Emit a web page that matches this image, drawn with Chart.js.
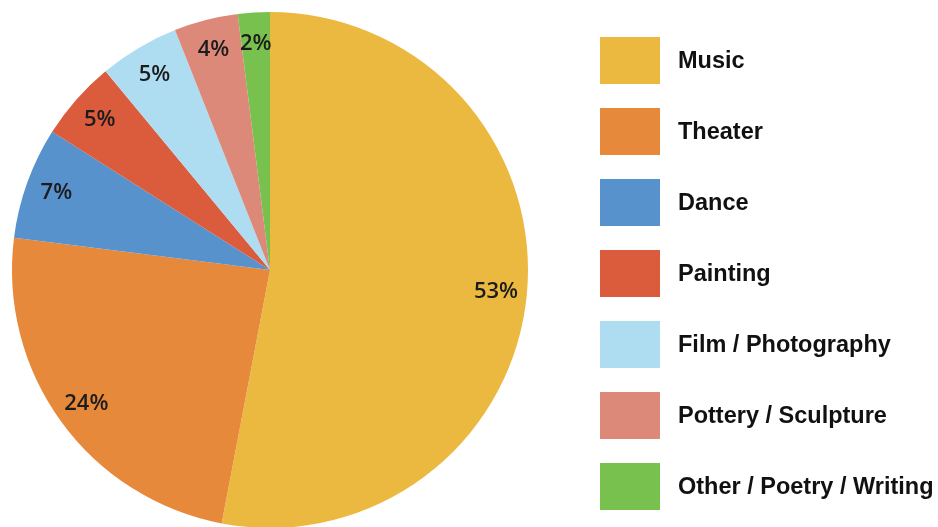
<!DOCTYPE html>
<html>
<head>
<meta charset="utf-8">
<script src="https://cdn.jsdelivr.net/npm/chart.js@4.4.0/dist/chart.umd.min.js"></script>
<style>
  html, body { margin: 0; padding: 0; background: #fff; overflow: hidden; }
  .wrap { position: relative; width: 938px; height: 527px; overflow: hidden; }
  .chart-box { position: absolute; left: 0; top: 0; width: 938px; height: 540px; }
  .legend { position: absolute; left: 600px; top: 37px; margin: 0; padding: 0; list-style: none; }
  .legend li { display: flex; align-items: center; height: 47px; margin-bottom: 24px; }
  .legend .swatch { width: 60px; height: 47px; margin-right: 18px; }
  .legend .text { font-family: "Liberation Sans", Arial, sans-serif; font-weight: bold; font-size: 23.5px; color: #111; }
</style>
</head>
<body>
<div class="wrap">
  <div class="chart-box"><canvas id="artsChart" width="938" height="540"></canvas></div>
  <ul class="legend" id="legend"></ul>
</div>
<script>
const categories = ['Music', 'Theater', 'Dance', 'Painting', 'Film / Photography', 'Pottery / Sculpture', 'Other / Poetry / Writing'];
const shares = [53, 24, 7, 5, 5, 4, 2];
const colors = ['#ECB940', '#E7893A', '#5792CD', '#DB5B3D', '#AEDCF1', '#DD897A', '#79C14E'];

// percentage labels inside the slices
const sliceLabels = {
  id: 'sliceLabels',
  afterDatasetsDraw(chart) {
    const ctx = chart.ctx;
    const meta = chart.getDatasetMeta(0);
    ctx.save();
    ctx.font = '600 22px "Open Sans", sans-serif';
    ctx.fillStyle = '#1c1c1c';
    ctx.textAlign = 'center';
    ctx.textBaseline = 'middle';
    meta.data.forEach((arc, i) => {
      const p = arc.getProps(['x', 'y', 'startAngle', 'endAngle', 'outerRadius']);
      const mid = (p.startAngle + p.endAngle) / 2;
      const r = p.outerRadius * 0.88;
      ctx.fillText(shares[i] + '%', p.x + Math.cos(mid) * r, p.y + Math.sin(mid) * r);
    });
    ctx.restore();
  }
};

const ctx = document.getElementById('artsChart').getContext('2d');
new Chart(ctx, {
  type: 'pie',
  data: {
    labels: categories,
    datasets: [{
      data: shares,
      backgroundColor: colors,
      borderWidth: 0
    }]
  },
  options: {
    responsive: false,
    animation: false,
    layout: {
      padding: { left: 12, top: 12, right: 410, bottom: 12 }
    },
    plugins: {
      legend: { display: false },
      tooltip: { enabled: false }
    }
  },
  plugins: [sliceLabels]
});

const legend = document.getElementById('legend');
categories.forEach((name, i) => {
  const li = document.createElement('li');
  li.innerHTML = '<span class="swatch" style="background:' + colors[i] + '"></span><span class="text">' + name + '</span>';
  legend.appendChild(li);
});
</script>
</body>
</html>
